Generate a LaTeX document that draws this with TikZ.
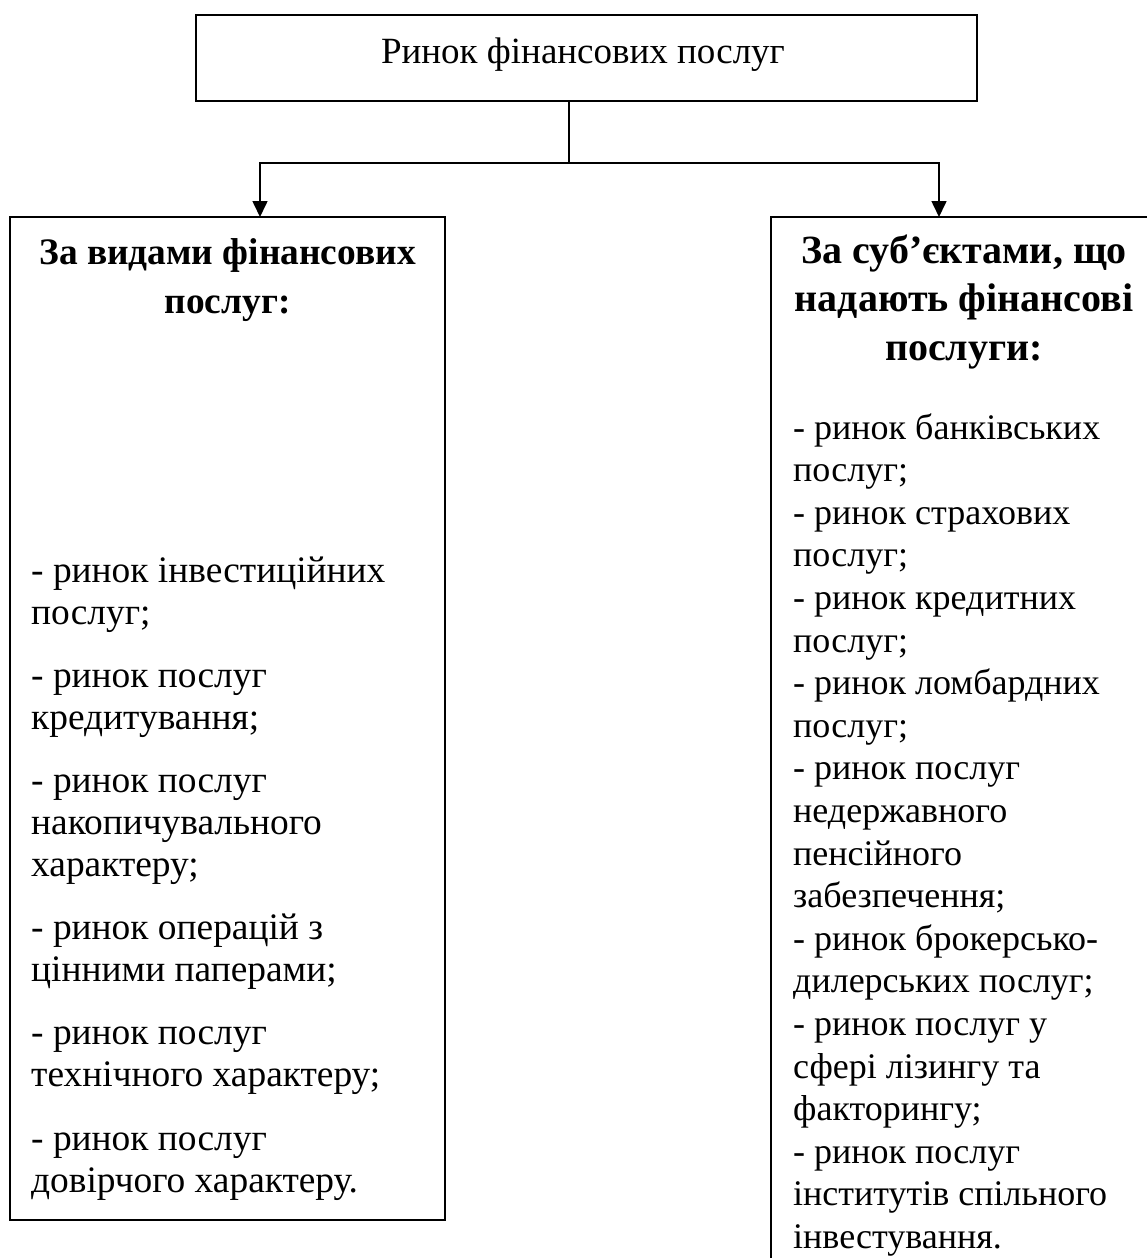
\documentclass[tikz,border=0pt]{standalone}
\usepackage{fontspec}
\setmainfont{Liberation Serif}
\usetikzlibrary{arrows.meta}
\begin{document}
\begin{tikzpicture}[x=1pt,y=-1pt,
  boxn/.style={draw=black,line width=1.7pt,rectangle,inner sep=0pt,outer sep=0pt},
  arr/.style={line width=1.6pt,-{Triangle[length=16pt,width=15pt]}},
  conn/.style={line width=1.6pt},
  txt/.style={inner sep=0pt,font=\fontsize{37}{43}\selectfont},
  lhead/.style={inner sep=0pt,font=\fontsize{37.4}{43}\selectfont\bfseries,anchor=base},
  rhead/.style={inner sep=0pt,font=\fontsize{40}{43}\selectfont\bfseries,anchor=base},
  llst/.style={inner sep=0pt,font=\fontsize{37.4}{43}\selectfont,anchor=base west},
  rlst/.style={inner sep=0pt,font=\fontsize{36}{43}\selectfont,anchor=base west}]
\useasboundingbox (0,0) rectangle (1147,1258);
\fill[white] (0,0) rectangle (1147,1258);
\clip (0,0) rectangle (1147,1258);
% boxes
\node[boxn,minimum width=781pt,minimum height=86pt] (top) at (586.5,58) {};
\node[boxn,minimum width=435pt,minimum height=1003pt] (lbox) at (227.5,718.5) {};
\node[boxn,minimum width=386pt,minimum height=1103pt] (rbox) at (964,768.5) {};
\node[txt,anchor=base] (toptext) at (583,63) {Ринок фінансових послуг};
% connectors
\coordinate (hub) at (569,163);
\coordinate (la) at (260,217);
\coordinate (ra) at (939,217);
\draw[conn] (top.south -| hub) -- (hub);
\draw[arr] (hub) -| (la);
\draw[arr] (hub) -| (ra);
% left heading
\node[lhead] (lh1) at (227.5,264) {За видами фінансових};
\node[lhead] (lh2) at (227.5,313) {послуг:};
% right heading
\node[rhead] (rh1) at (964,263) {За суб’єктами, що};
\node[rhead] (rh2) at (964,311) {надають фінансові};
\node[rhead] (rh3) at (964,360) {послуги:};
% left list
\foreach \t/\y [count=\i] in {
  {- ринок інвестиційних}/582,
  {послуг;}/624,
  {- ринок послуг}/687,
  {кредитування;}/729,
  {- ринок послуг}/792,
  {накопичувального}/834,
  {характеру;}/876,
  {- ринок операцій з}/939,
  {цінними паперами;}/981,
  {- ринок послуг}/1044,
  {технічного характеру;}/1086,
  {- ринок послуг}/1150,
  {довірчого характеру.}/1192}
  \node[llst] (l\i) at (31,\y) {\t};
% right list
\foreach \t [count=\i] in {
  {- ринок банківських},
  {послуг;},
  {- ринок страхових},
  {послуг;},
  {- ринок кредитних},
  {послуг;},
  {- ринок ломбардних},
  {послуг;},
  {- ринок послуг},
  {недержавного},
  {пенсійного},
  {забезпечення;},
  {- ринок брокерсько-},
  {дилерських послуг;},
  {- ринок послуг у},
  {сфері лізингу та},
  {факторингу;},
  {- ринок послуг},
  {інститутів спільного},
  {інвестування.}}
  \node[rlst] (r\i) at (793,{439+42.6*(\i-1)}) {\t};
\end{tikzpicture}
\end{document}
